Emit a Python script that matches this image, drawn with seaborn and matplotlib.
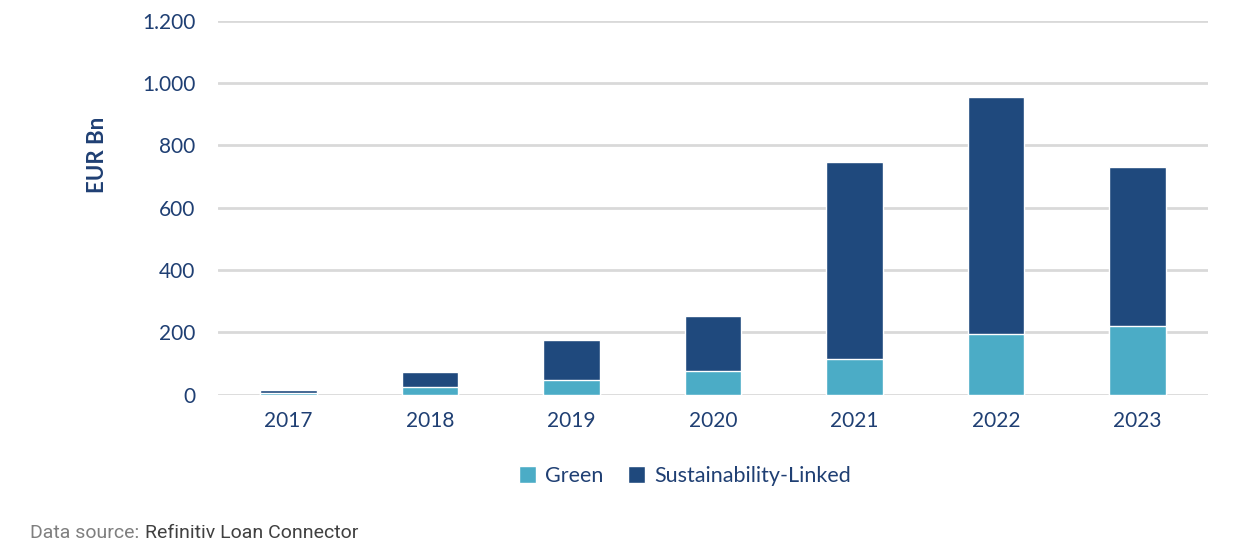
import numpy as np
import pandas as pd
import matplotlib.pyplot as plt
import seaborn as sns
from matplotlib.patches import Patch

# ─── Data ────────────────────────────────────────────────────────────────────
years = ["2017", "2018", "2019", "2020", "2021", "2022", "2023"]
green = [6, 23, 46, 75, 113, 193, 220]
sustainability_linked = [8, 48, 130, 177, 633, 761, 511]
y_ticks = [0, 200, 400, 600, 800, 1000, 1200]
y_tick_labels = ["0", "200", "400", "600", "800", "1.000", "1.200"]

GREEN_COL = "#4BACC6"
SLL_COL = "#1F497D"
TEXT_COL = "#1F3F73"
GRID_COL = "#D9D9D9"

df = pd.DataFrame({"year": years, "green": green, "sll": sustainability_linked})
df["total"] = df["green"] + df["sll"]

# ─── Plot ────────────────────────────────────────────────────────────────────
sns.set_theme(style="white")
plt.rcParams["font.family"] = ["Lato", "DejaVu Sans"]

fig = plt.figure(figsize=(12.52, 5.5), dpi=100)
ax = fig.add_axes([0.174, 0.2827, 0.791, 0.68])

sns.barplot(data=df, x="year", y="total", color=SLL_COL, width=0.4,
            saturation=1, ax=ax, zorder=3)
sns.barplot(data=df, x="year", y="green", color=GREEN_COL, width=0.4,
            saturation=1, ax=ax, zorder=4)

ax.set_ylim(0, 1200)
ax.set_yticks(y_ticks)
ax.set_yticklabels(y_tick_labels)
ax.set_xlim(-0.5, len(years) - 0.5)
ax.yaxis.grid(True, color=GRID_COL, linewidth=2, zorder=0)
ax.set_axisbelow(True)
for side in ["top", "right", "left", "bottom"]:
    ax.spines[side].set_visible(False)
ax.tick_params(axis="both", length=0, labelsize=15, colors=TEXT_COL)
ax.tick_params(axis="y", pad=16)
ax.tick_params(axis="x", pad=12)
ax.set_xlabel("")
ax.set_ylabel("EUR Bn", fontsize=16, fontweight="bold", color=TEXT_COL)
ax.yaxis.set_label_coords(-0.111, 0.64)

handles = [Patch(facecolor=GREEN_COL, label="Green"),
           Patch(facecolor=SLL_COL, label="Sustainability-Linked")]
fig.legend(handles=handles, loc="center", bbox_to_anchor=(0.547, 0.135), ncol=2,
           frameon=False, fontsize=15.5, labelcolor=TEXT_COL, handlelength=0.8,
           handleheight=0.8, handletextpad=0.4, columnspacing=1.15)

fig.text(0.024, 0.03, "Data source:", fontsize=14, color="#7F7F7F",
         family=["Roboto", "DejaVu Sans"], va="center")
fig.text(0.116, 0.03, "Refinitiv Loan Connector", fontsize=14, color="#404040",
         family=["Roboto", "DejaVu Sans"], va="center")

fig.savefig("out.png", dpi=100)
plt.close()
